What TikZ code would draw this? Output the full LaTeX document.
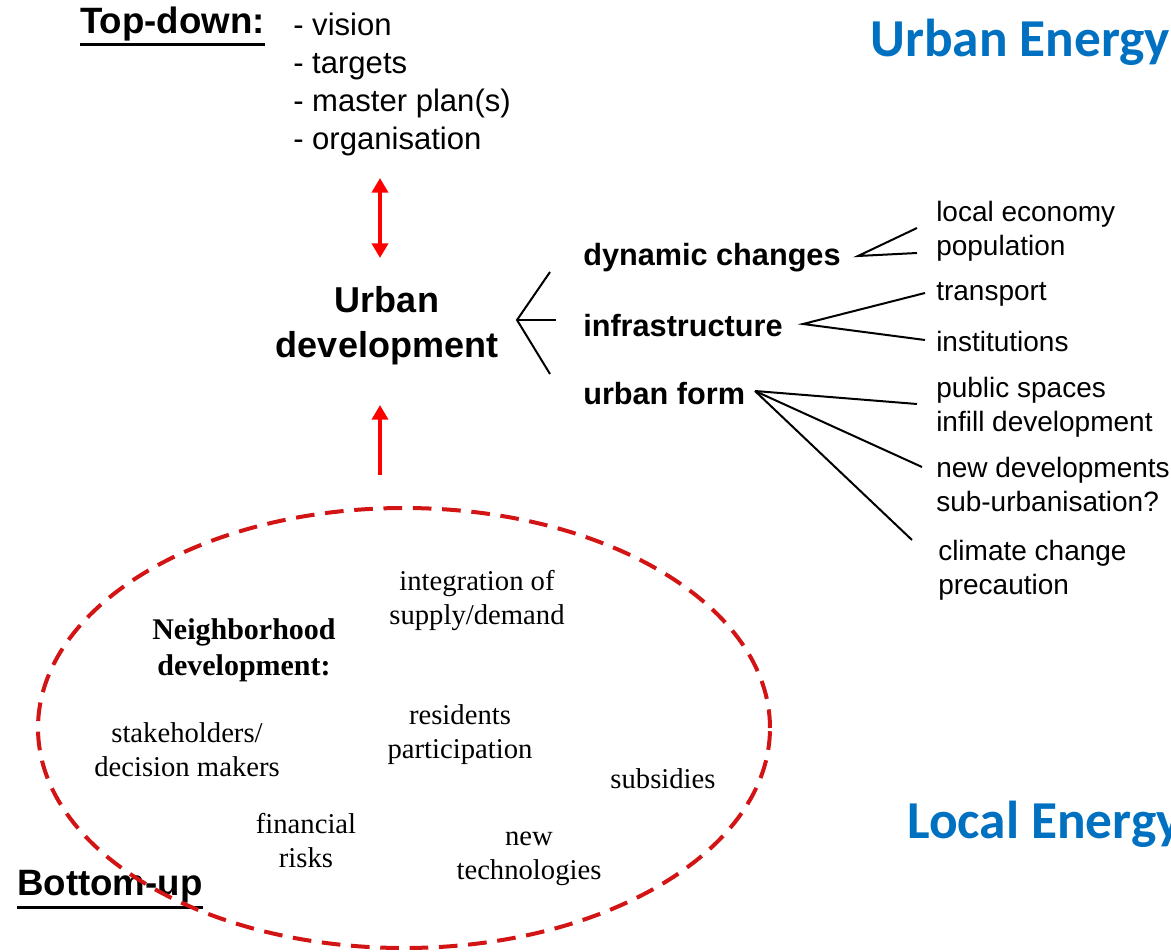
\documentclass[tikz,border=0pt]{standalone}
\usepackage{fontspec}
\setmainfont{Liberation Serif}
\newfontfamily\arialf{Liberation Sans}
\newfontfamily\calibf{Carlito}
\usetikzlibrary{arrows.meta,shapes.geometric}
\definecolor{ublue}{RGB}{0,112,192}
\definecolor{dred}{RGB}{210,20,20}
\begin{document}
\begin{tikzpicture}[x=0.75pt,y=-0.75pt,
  sitem/.style={font=\arialf\fontsize{21}{25.5}\selectfont, anchor=west, inner sep=0pt, align=left},
  tlist/.style={font=\arialf\fontsize{23.3}{28.5}\selectfont, anchor=west, inner sep=0pt, align=left},
  bitem/.style={font=\arialf\bfseries\fontsize{23}{28}\selectfont, anchor=west, inner sep=0pt},
  udtext/.style={font=\arialf\bfseries\fontsize{27}{34}\selectfont, align=center, inner sep=0pt},
  headtext/.style={font=\arialf\bfseries\fontsize{27.5}{30}\selectfont, anchor=west, inner sep=0pt},
  sertext/.style={font=\fontsize{21.5}{25.5}\selectfont, align=center, inner sep=0pt},
  serbold/.style={font=\bfseries\fontsize{22.5}{27}\selectfont, align=center, inner sep=0pt},
  bluetext/.style={font=\calibf\bfseries\fontsize{40}{44}\selectfont, text=ublue, anchor=west, inner sep=0pt},
  link/.style={line width=1.5pt, draw=black},
  redarrow/.style={draw=red, line width=3pt, -{Triangle[width=12pt,length=11pt]}},
  redboth/.style={draw=red, line width=3pt, {Triangle[width=12pt,length=11pt]}-{Triangle[width=12pt,length=11pt]}},
  uline/.style={line width=2.4pt, draw=black}
]
\path[use as bounding box] (0,0) rectangle (1171,952);
\clip (0,0) rectangle (1171,952);

% headings
\node[headtext] (td) at (80,24) {Top-down:};
\draw[uline] ([yshift=-2.5pt]td.south west) -- ([yshift=-2.5pt]td.south east);
\node[tlist] (tl) at (293,84) {- vision\\- targets\\- master plan(s)\\- organisation};

\node[headtext] (bu) at (17,887) {Bottom-up};
\draw[uline] ([yshift=-3pt]bu.south west) -- ([yshift=-3pt]bu.south east);

% blue titles
\node[bluetext] (ue) at (870,42) {Urban Energy};
\node[bluetext] (le) at (907,824) {Local Energy};

% centre
\node[udtext] (ud) at (387,326) {Urban\\development};

% red arrows
\coordinate (a1) at (380,178);
\coordinate (a2) at (380,258);
\coordinate (a3) at (380,475);
\coordinate (a4) at (380,405);
\draw[redboth] (a1) -- (a2);
\draw[redarrow] (a3) -- (a4);

% branch level 1
\node[bitem] (dc) at (583,258) {dynamic changes};
\node[bitem] (inf) at (583,326) {infrastructure};
\node[bitem] (uf) at (583,394) {urban form};

\coordinate (v0) at (517,320);
\coordinate (e1) at (550,272);
\coordinate (e2) at (556,320);
\coordinate (e3) at (550,374);
\draw[link] (e1) -- (v0) -- (e3);
\draw[link] (v0) -- (e2);

% right items
\node[sitem] (r1) at (936,231) {local economy\\population};
\node[sitem] (r2) at (936,294) {transport};
\node[sitem] (r3) at (936,341) {institutions};
\node[sitem] (r4) at (936,407) {public spaces\\infill development};
\node[sitem] (r5) at (936,484) {new developments\\sub-urbanisation?};
\node[sitem] (r6) at (938,570) {climate change\\precaution};

% fans
\coordinate (dv) at (858,256);
\coordinate (d1) at (917,228);
\coordinate (d2) at (917,253);
\draw[link] (d1) -- (dv) -- (d2);

\coordinate (iv) at (803,324);
\coordinate (i1) at (925,293);
\coordinate (i2) at (925,340);
\draw[link] (i1) -- (iv) -- (i2);

\coordinate (uv) at (755,391);
\coordinate (u1) at (917,404);
\coordinate (u2) at (922,467);
\coordinate (u3) at (912,540);
\draw[link] (uv) -- (u1);
\draw[link] (uv) -- (u2);
\draw[link] (uv) -- (u3);

% neighbourhood ellipse
\node[draw=dred, line width=3pt, dash pattern=on 14pt off 8pt, ellipse, inner sep=0pt,
      minimum width=549pt, minimum height=330pt] (nb) at (404,728) {};

\node[sertext] (n1) at (477,600) {integration of\\supply/demand};
\node[serbold] (n2) at (244,650) {Neighborhood\\development:};
\node[sertext] (n3) at (460,735) {residents\\participation};
\node[sertext] (n4) at (187,750) {stakeholders/\\decision makers};
\node[sertext] (n5) at (663,779) {subsidies};
\node[sertext] (n6) at (306,841) {financial\\risks};
\node[sertext] (n7) at (529,859) {new\\technologies};
\end{tikzpicture}
\end{document}
